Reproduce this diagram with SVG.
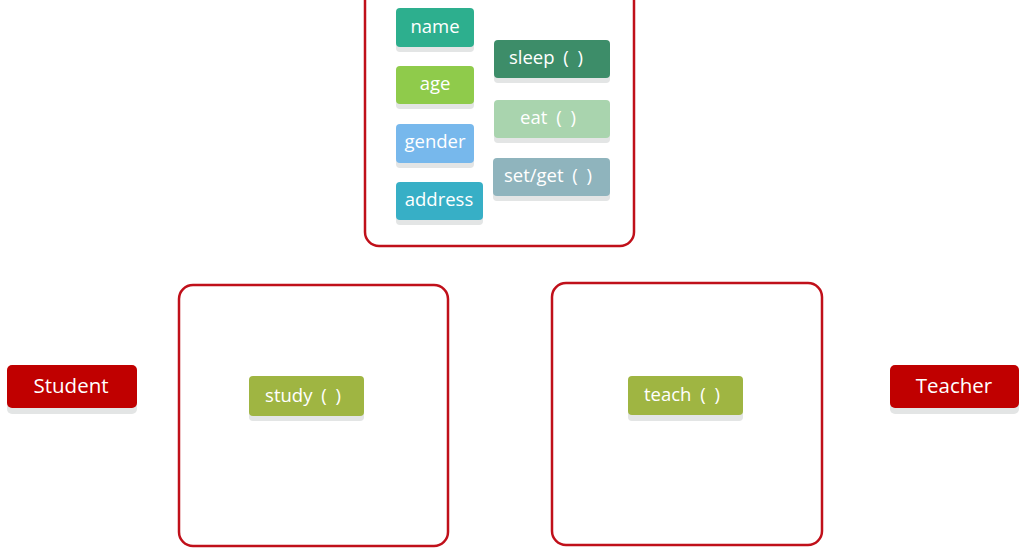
<svg xmlns="http://www.w3.org/2000/svg" width="1024" height="554" viewBox="0 0 1024 554">
<style>
.frame{fill:#fff;stroke:#C0101A;stroke-width:2.5}
.sh{fill:#E3E5E5}
.t{font-family:"Open Sans","Noto Sans",sans-serif;fill:#fff;text-anchor:middle}
.s{font-size:18.5px;word-spacing:4px}
.b{font-size:20.5px}
</style>
<rect width="1024" height="554" fill="#fff"/>
<g id="person">
<rect class="frame" x="365" y="-20" width="269" height="266" rx="14"/>
</g>
<g id="name"><rect class="sh" x="396" y="12" width="78" height="40" rx="4"/><rect x="396" y="8" width="78" height="39" rx="4" fill="#2DAF8E"/><text class="t s" x="435" y="33">name</text></g>
<g id="age"><rect class="sh" x="396" y="70" width="78" height="39" rx="4"/><rect x="396" y="66" width="78" height="38" rx="4" fill="#8FCB4B"/><text class="t s" x="435" y="90">age</text></g>
<g id="gender"><rect class="sh" x="396" y="128" width="78" height="40" rx="4"/><rect x="396" y="124" width="78" height="39" rx="4" fill="#77B8EC"/><text class="t s" x="435" y="148">gender</text></g>
<g id="address"><rect class="sh" x="396" y="186" width="87" height="39" rx="4"/><rect x="396" y="182" width="87" height="38" rx="4" fill="#37AFC6"/><text class="t s" x="439" y="206">address</text></g>
<g id="sleep"><rect class="sh" x="494" y="44" width="116" height="39" rx="4"/><rect x="494" y="40" width="116" height="38" rx="4" fill="#3D8D69"/><text class="t s" x="546" y="64">sleep ( )</text></g>
<g id="eat"><rect class="sh" x="494" y="104" width="116" height="39" rx="4"/><rect x="494" y="100" width="116" height="38" rx="4" fill="#A9D4AE"/><text class="t s" x="548" y="124">eat ( )</text></g>
<g id="setget"><rect class="sh" x="493" y="162" width="117" height="39" rx="4"/><rect x="493" y="158" width="117" height="38" rx="4" fill="#8FB4BD"/><text class="t s" x="548" y="182">set/get ( )</text></g>
<g id="student"><rect class="sh" x="7" y="370" width="130" height="44" rx="5"/><rect x="7" y="365" width="130" height="43" rx="5" fill="#C00000"/><text class="t b" x="71" y="393">Student</text></g>
<g id="studentBox"><rect class="frame" x="179" y="285" width="269" height="261" rx="14"/></g>
<g id="study"><rect class="sh" x="249" y="380" width="115" height="41" rx="4"/><rect x="249" y="376" width="115" height="40" rx="4" fill="#9FB542"/><text class="t s" x="303" y="402">study ( )</text></g>
<g id="teacherBox"><rect class="frame" x="552" y="283" width="270" height="262" rx="14"/></g>
<g id="teach"><rect class="sh" x="628" y="380" width="115" height="41" rx="4"/><rect x="628" y="376" width="115" height="39" rx="4" fill="#9FB542"/><text class="t s" x="682" y="401">teach ( )</text></g>
<g id="teacher"><rect class="sh" x="890" y="370" width="129" height="44" rx="5"/><rect x="890" y="365" width="129" height="43" rx="5" fill="#C00000"/><text class="t b" x="954" y="393">Teacher</text></g>
<g id="connectors"></g>
</svg>
